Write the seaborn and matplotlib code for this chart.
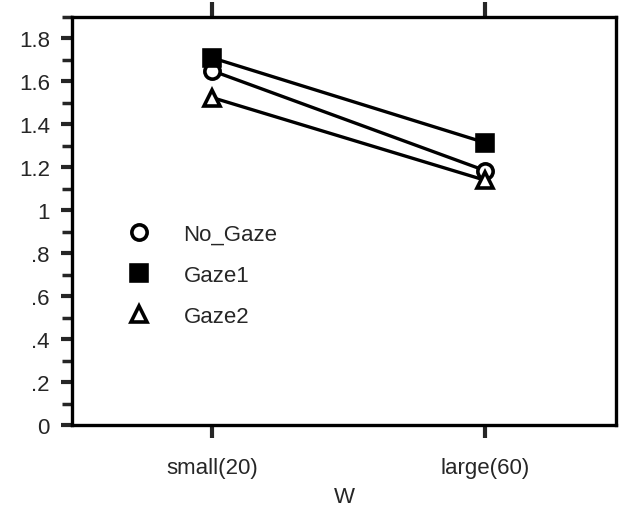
import matplotlib
matplotlib.use("Agg")
import matplotlib.pyplot as plt
import seaborn as sns
import pandas as pd
from matplotlib.ticker import MultipleLocator, FuncFormatter

categories = ["small(20)", "large(60)"]
series_names = ["No_Gaze", "Gaze1", "Gaze2"]
no_gaze = [1.65, 1.185]
gaze1 = [1.71, 1.315]
gaze2 = [1.525, 1.14]

sns.set_style("white")
plt.rcParams['font.family'] = ['Liberation Sans', 'DejaVu Sans']

FS = 16
fig = plt.figure(figsize=(6.28, 5.10), dpi=100)
ax = fig.add_axes([72/628, 1-426/510, (616-72)/628, (426-18)/510])

styles = {
    "No_Gaze": dict(marker="o", mfc="white"),
    "Gaze1": dict(marker="s", mfc="black"),
    "Gaze2": dict(marker="^", mfc="white"),
}
values = {"No_Gaze": no_gaze, "Gaze1": gaze1, "Gaze2": gaze2}
for name in series_names:
    df = pd.DataFrame({"W": categories, "v": values[name]})
    st = styles[name]
    sns.lineplot(data=df, x="W", y="v", ax=ax, color="black", linewidth=2.4,
                 marker=st["marker"], markersize=11, mfc=st["mfc"], mec="black",
                 mew=2.6, label=name, sort=False)

ax.set_xlim(-0.513, 1.48)
ax.set_ylim(0, 1.9)
ax.yaxis.set_major_locator(MultipleLocator(0.2))
ax.yaxis.set_minor_locator(MultipleLocator(0.1))

def fmt(v, pos):
    s = f"{v:.1f}"
    if s.endswith(".0"):
        s = s[:-2]
    if s.startswith("0."):
        s = s[1:]
    return s
ax.yaxis.set_major_formatter(FuncFormatter(fmt))

ax.tick_params(axis="y", which="major", direction="out", length=8, width=3, labelsize=FS, pad=8, left=True)
ax.tick_params(axis="y", which="minor", direction="out", length=7, width=2.5, left=True)
ax.tick_params(axis="x", which="major", direction="out", length=9, width=3, labelsize=FS, pad=14,
               bottom=True, top=True)
for t in ax.xaxis.get_major_ticks():
    t.tick2line.set_markersize(11)
for sp in ax.spines.values():
    sp.set_linewidth(2.4)
    sp.set_color("black")
ax.set_xlabel("W", fontsize=FS, labelpad=6)
ax.set_ylabel("")

leg = ax.legend(loc="upper left", bbox_to_anchor=(0.107, 0.515), frameon=False, fontsize=FS,
                handlelength=0, handletextpad=2.0, labelspacing=0.9, markerscale=1.0,
                borderaxespad=0)
for h in leg.legend_handles:
    h.set_linewidth(0)

fig.savefig("out.png", dpi=100)
